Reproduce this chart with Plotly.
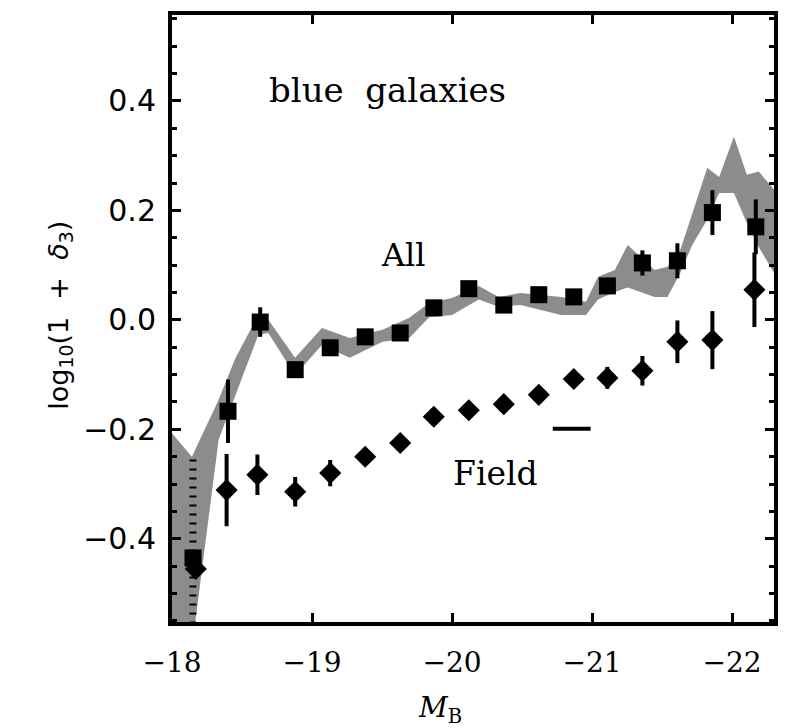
import plotly.graph_objects as go

# "All" sample: binned overdensity of blue galaxies vs absolute magnitude
all_mag = [-18.15, -18.40, -18.63, -18.88, -19.13, -19.38, -19.63, -19.87, -20.12,
           -20.37, -20.62, -20.87, -21.11, -21.36, -21.61, -21.86, -22.17]
all_val = [-0.435, -0.167, -0.004, -0.091, -0.051, -0.031, -0.024, 0.022, 0.057,
           0.027, 0.046, 0.042, 0.062, 0.104, 0.108, 0.196, 0.170]
all_err = [0.0, 0.058, 0.027, 0.012, 0.010, 0.010, 0.010, 0.010, 0.010,
           0.010, 0.010, 0.010, 0.012, 0.023, 0.032, 0.041, 0.050]

# first "All" bin: upper limit only, lower side unbounded (dotted)
all_first_hi = -0.255
all_first_lo = -0.75

# "Field" sample
field_mag = [-18.17, -18.39, -18.61, -18.88, -19.13, -19.38, -19.63, -19.87, -20.12,
             -20.37, -20.62, -20.87, -21.11, -21.36, -21.61, -21.86, -22.16]
field_val = [-0.455, -0.311, -0.283, -0.314, -0.280, -0.250, -0.225, -0.177, -0.165,
             -0.154, -0.137, -0.108, -0.106, -0.093, -0.040, -0.037, 0.055]
field_err = [0.0, 0.066, 0.037, 0.027, 0.024, 0.010, 0.010, 0.010, 0.010,
             0.010, 0.010, 0.010, 0.020, 0.027, 0.039, 0.053, 0.068]

# shaded band: range of the comparison measurement
band_mag = [-18.0, -18.142, -18.333, -18.454, -18.617, -18.688, -18.879, -19.071, -19.270,
            -19.504, -19.695, -19.837, -20.0, -20.191, -20.333, -20.489, -20.780, -20.957,
            -21.043, -21.163, -21.255, -21.447, -21.539, -21.631, -21.716, -21.823,
            -21.908, -22.014, -22.106, -22.191, -22.3]
band_hi = [-0.207, -0.250, -0.146, -0.069, 0.009, 0.000, -0.069, -0.015, -0.033,
           -0.018, 0.004, 0.031, 0.040, 0.062, 0.042, 0.049, 0.042, 0.033,
           0.079, 0.091, 0.137, 0.091, 0.097, 0.128, 0.194, 0.278,
           0.261, 0.335, 0.265, 0.271, 0.238]
band_lo = [-0.75, -0.60, -0.219, -0.137, -0.027, -0.024, -0.101, -0.046, -0.069,
           -0.040, -0.033, 0.005, 0.009, 0.037, 0.024, 0.027, 0.009, 0.009,
           0.037, 0.051, 0.059, 0.042, 0.042, 0.086, 0.137, 0.183,
           0.232, 0.232, 0.177, 0.133, 0.086]

# horizontal scale bar
bar_mag = [-20.72, -20.99]
bar_val = [-0.199, -0.199]

x_ticks = [-18, -19, -20, -21, -22]
y_ticks = [-0.4, -0.2, 0.0, 0.2, 0.4]

BAND = "#8c8c8c"

fig = go.Figure()

fig.add_trace(go.Scatter(x=band_mag, y=band_lo, mode="lines",
                         line=dict(color=BAND, width=0), hoverinfo="skip"))
fig.add_trace(go.Scatter(x=band_mag, y=band_hi, mode="lines", fill="tonexty",
                         fillcolor=BAND, line=dict(color=BAND, width=0), hoverinfo="skip"))

# dotted open-ended error bar of the faintest "All" bin
fig.add_trace(go.Scatter(x=[all_mag[0], all_mag[0]], y=[all_first_hi, all_first_lo],
                         mode="lines", line=dict(color="black", width=7, dash="2px,7px")))

fig.add_trace(go.Scatter(
    x=field_mag, y=field_val, mode="markers",
    marker=dict(symbol="diamond", size=17, color="black", line=dict(width=0)),
    error_y=dict(type="data", array=field_err, color="black", thickness=4, width=0),
))

fig.add_trace(go.Scatter(
    x=all_mag, y=all_val, mode="markers",
    marker=dict(symbol="square", size=17, color="black", line=dict(width=0)),
    error_y=dict(type="data", array=all_err, color="black", thickness=4, width=0),
))

fig.add_trace(go.Scatter(x=bar_mag, y=bar_val, mode="lines",
                         line=dict(color="black", width=4)))

fig.add_annotation(x=-19.54, y=0.42, text="blue  galaxies", showarrow=False,
                   font=dict(family="DejaVu Serif", size=34, color="black"))
fig.add_annotation(x=-19.65, y=0.119, text="All", showarrow=False,
                   font=dict(family="DejaVu Serif", size=32, color="black"))
fig.add_annotation(x=-20.31, y=-0.28, text="Field", showarrow=False,
                   font=dict(family="DejaVu Serif", size=33, color="black"))

fig.add_annotation(xref="paper", yref="paper", x=-0.218, y=0.505,
                   text="log<sub>10</sub>(1  +  <i>δ</i><sub>3</sub>)", textangle=-90,
                   showarrow=False, font=dict(family="DejaVu Sans", size=27, color="black"))
fig.add_annotation(xref="paper", yref="paper", x=0.445, y=-0.178,
                   text="<i>M</i><sub>B</sub>", showarrow=False,
                   font=dict(family="DejaVu Serif", size=28, color="black"))

fig.update_xaxes(range=[-18, -22.3], tickvals=x_ticks, ticktext=[f"\u2212{abs(v)}" for v in x_ticks],
                 ticks="inside", ticklen=9, tickwidth=3, tickcolor="black",
                 showline=True, linewidth=4, linecolor="black", mirror="ticks",
                 showgrid=False, zeroline=False,
                 tickfont=dict(family="DejaVu Serif", size=28, color="black"),
                 ticklabelstandoff=12)
fig.update_yaxes(range=[-0.552, 0.557], tickvals=y_ticks,
                 ticktext=[("\u2212" if v < 0 else "") + f"{abs(v):.1f}" for v in y_ticks],
                 ticks="inside", ticklen=9, tickwidth=3, tickcolor="black",
                 minor=dict(dtick=0.05, ticks="inside", ticklen=5, tickwidth=3, tickcolor="black"),
                 showline=True, linewidth=4, linecolor="black", mirror="ticks",
                 showgrid=False, zeroline=False,
                 tickfont=dict(family="DejaVu Sans", size=30, color="black"),
                 ticklabelstandoff=6)

fig.update_layout(width=785, height=728, margin=dict(l=172, r=7, t=15, b=106),
                  paper_bgcolor="white", plot_bgcolor="white", showlegend=False)

fig.write_html("out.html")
